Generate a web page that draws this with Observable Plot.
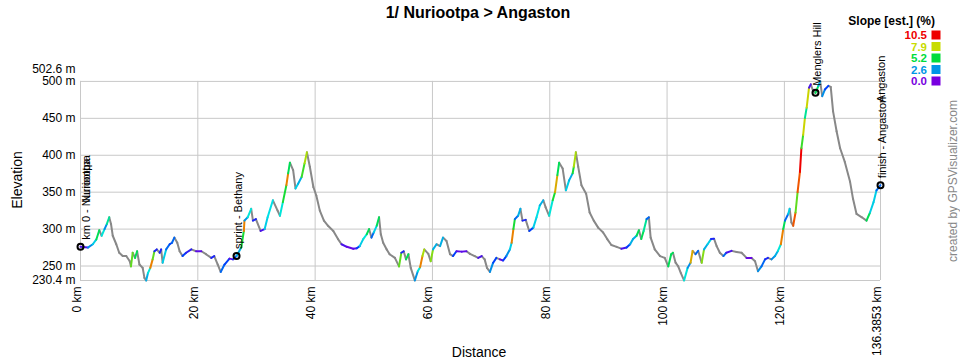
<!DOCTYPE html>
<html>
<head>
<meta charset="utf-8">
<script src="https://cdn.jsdelivr.net/npm/d3@7"></script>
<script src="https://cdn.jsdelivr.net/npm/@observablehq/plot@0.6"></script>
<style>
  body { margin: 0; background: #fff; }
  #wrap { position: relative; width: 960px; height: 360px; overflow: hidden; font-family: "Liberation Sans", Arial, sans-serif; }
  #wrap svg { position: absolute; left: 0; top: 0; }
</style>
</head>
<body>
<div id="wrap"></div>
<script>
// ---- Data read from the profile (distance in km, elevation in m, estimated slope % of the segment ending at each point; negative = descent) ----
const km = [
  0, 1.25, 2.1, 2.7, 3.2, 3.6, 4.1, 4.5, 4.9, 5.2,
  5.5, 6.1, 6.6, 7.2, 7.8, 8.4, 8.6, 8.9, 9.3, 9.65,
  10.05, 10.6, 10.9, 11.2, 11.5, 11.9, 12.3, 12.6, 13.0, 13.5,
  13.75, 14.0, 14.6, 15.2, 15.6, 16.0, 16.5, 16.9, 17.4, 18.0,
  18.9, 19.7, 20.6, 21.4, 22.3, 22.8, 23.4, 23.9, 24.55, 25.4,
  26.0, 26.6, 27.4, 27.85, 27.95, 28.5, 29.1, 29.4, 29.9, 30.7,
  31.4, 31.9, 32.8, 33.6, 34.0, 34.5, 35.1, 35.4, 35.7, 36.25,
  36.65, 37.1, 37.7, 38.2, 38.6, 39.1, 39.7, 40.2, 40.8, 41.5,
  42.2, 43.1, 43.9, 44.5, 45.4, 46.5, 47.1, 47.6, 48.2, 48.8,
  49.2, 49.6, 50.0, 50.5, 50.9, 51.2, 51.6, 52.2, 52.7, 53.6,
  54.3, 54.7, 55.1, 55.5, 55.9, 56.3, 57.0, 57.5, 57.9, 58.3,
  58.6, 59.3, 59.7, 60.1, 60.7, 61.3, 61.8, 62.4, 63.0, 63.5,
  64.1, 65.0, 65.8, 66.4, 67.2, 67.8, 68.4, 68.9, 69.3, 69.8,
  70.35, 70.9, 71.5, 72.05, 72.6, 73.2, 73.5, 73.8, 74.05, 74.6,
  75.0, 75.35, 75.9, 76.5, 77.2, 77.75, 78.3, 78.9, 79.3, 79.9,
  80.5, 80.9, 81.3, 81.6, 82.2, 82.75, 83.3, 83.9, 84.1, 84.45,
  84.85, 85.4, 86.2, 86.8, 87.5, 88.25, 89.1, 89.8, 90.5, 91.4,
  92.2, 93.1, 93.7, 94.2, 94.8, 95.2, 95.6, 96.0, 96.5, 96.9,
  97.2, 97.9, 98.8, 99.6, 100.2, 100.7, 101.0, 101.45, 101.9, 102.35,
  102.9, 103.5, 104.0, 104.35, 104.85, 105.3, 105.9, 106.3, 106.9, 107.5,
  108.0, 108.45, 109.0, 109.6, 110.1, 111.0, 111.85, 112.7, 113.55, 114.4,
  115.0, 115.5, 116.1, 116.7, 117.2, 117.8, 118.4, 118.9, 119.4, 119.8,
  120.1, 120.65, 120.9, 121.2, 121.5, 121.9, 122.25, 122.65, 122.9, 123.2,
  123.5, 123.8, 124.2, 124.5, 124.9, 125.3, 125.8, 126.1, 126.45, 126.9,
  127.5, 127.9, 128.3, 128.9, 129.5, 130.3, 131.2, 131.7, 132.3, 133.2,
  134.0, 134.6, 135.2, 135.7, 136.3853
];
const elev = [
  276, 275, 279.5, 286, 298.5, 291, 300, 307, 316, 307,
  291, 279.5, 268, 263.5, 263.5, 256.5, 249.5, 268, 261, 270,
  252, 247.5, 234, 230.4, 240.5, 247.5, 259, 270, 272.5, 268,
  272.5, 254.5, 272.5, 279.5, 281.5, 288.5, 281.5, 270, 263.5, 268,
  272.5, 270, 270, 266, 261, 263.5, 252, 242, 252, 260,
  259, 263.5, 275, 297.5, 311.5, 316, 327.5, 311.5, 313.5, 297.5,
  300, 316, 339, 325, 318, 336.5, 359.5, 375.5, 390, 380,
  355, 361.5, 370.5, 389, 404, 384.5, 357, 345.5, 325, 311.5,
  304.5, 297.5, 286.5, 279.5, 276, 273.5, 274, 277, 286.5, 293,
  300, 288.5, 295.5, 304.5, 316, 293, 281.5, 272.5, 266, 261,
  249.5, 268, 270, 259, 266, 247.5, 230.5, 243, 248.5, 263.5,
  272.5, 266.5, 256.5, 272.5, 279.5, 277, 288.5, 284, 266, 263.5,
  270, 269.5, 270, 266.5, 263.5, 261, 263.5, 259, 247.5, 242,
  254.5, 261, 259, 257.5, 263.5, 272.5, 281.5, 300, 313.5, 318,
  327.5, 311.5, 312.5, 297.5, 302, 316, 332, 339, 329.5, 318,
  339, 350, 373, 390, 382, 352.5, 366, 375.5, 384.5, 404,
  384.5, 359.5, 348, 322.5, 311.5, 302, 295.5, 286.5, 278.5, 276,
  273.5, 275, 279.5, 286.5, 291, 298.5, 286.5, 297.5, 313.5, 316,
  288.5, 272.5, 263.5, 261, 249.5, 266, 268, 254.5, 249.5, 240.5,
  230.5, 247.5, 254.5, 270.5, 266, 270.5, 254.5, 272.5, 279.5, 286.5,
  287, 277, 268, 263.5, 268, 270.5, 269, 268, 261, 261,
  256.5, 243, 249.5, 259, 261, 259, 263.5, 270.5, 279.5, 300,
  311.5, 320.5, 327.5, 309, 304.5, 322.5, 350, 377.5, 409.5, 427.5,
  450.5, 464.5, 491.5, 496, 487, 484.5, 494, 500, 480, 489,
  494, 492.5, 459.5, 432.5, 409.5, 391, 364, 341, 320.5, 316,
  311.5, 322.5, 336.5, 352.5, 359.5
];
const slope = [
  null, 0.5, 2.5, 3.5, 5, -3, 4, 2.5, 4.5, -3,
  -3, -3, -3, -2, -1, -2, -2, 6.5, -2, 5,
  -3, -2, -3, -2, 3, 4, 9, 6.5, 1, -1,
  1, -3, 3.5, 2, 1.5, 2, -2, -2, -2, 1.5,
  0.8, -1, 0.3, -1, -1, 1, -2, -2, 2, 1.5,
  0.2, 1.2, 3, 5.5, 9, 2.6, 4, -3, 1, -2,
  0.5, 3.5, 3.8, -2, -2, 4, 5.5, 9, 5, -3,
  -3, 3.5, 3, 6, 7.5, -3, -3, -3, -3, -3,
  -2, -2, -2, -2, 0.5, 0.2, 0.3, 1.5, 3.5, 4,
  5, -3, 2, 3.5, 5, -3, -3, -2, -2, -1,
  -2, 6.5, 1, -2, 5, -3, -3, 2.6, 4, 9,
  7.5, -2, -2, 7, 3, -1, 3, -2, -2, -1,
  1.5, 0.3, 0.3, -1, -1, -1, 0.5, -1, -2, -2,
  2.5, 1.5, -1, 0.2, 1.5, 2.5, 3.5, 9, 5.5, 2,
  3, -3, 1, -2, 1.5, 3.5, 3.8, 3, -2, -2,
  4, 5.5, 8.5, 5, -2, -3, 3.5, 3, 5.5, 7.5,
  -3, -3, -3, -3, -2, -2, -2, -2, -2, -1,
  -1, 0.5, 1.5, 3, 3, 5, -3, 5, 4.5, 2,
  -3, -3, -2, -1, -2, 5, 5, -3, -2, -2,
  -2, 4, 2.5, 8.5, -2, 2, -3, 7, 3, 3.5,
  1, -2, -2, -1, 2, 0.5, -0.5, -0.5, -1, 0.2,
  -1, -2, 2.5, 2, 1, -1, 2.5, 3, 4, 9,
  5, 2, 3.5, -3, -2, 9.5, 6.5, 9.5, 10.5, 6,
  8, 4.5, 8, 0.5, -2, -1, 5, 3, -3, 2.5,
  1.5, -1, -3, -3, -3, -3, -3, -3, -3, -2,
  -2, 5, 3.5, 3.5, 2
];

// Waypoints
const wpNames = ["km 0 - Nuriootpa", "sprint - Bethany", "Menglers Hill", "finish - Angaston"];
const wpKm = [0, 26.6, 125.3, 136.3853];
const wpElev = [276, 263.5, 484.5, 359.5];
const startAlias = ["Nuriootpa"];
const finishAlias = ["Angaston"];

// Axis ticks
const xTicks = [0, 20, 40, 60, 80, 100, 120, 136.3853];
const yTicks = [230.4, 250, 300, 350, 400, 450, 500];
const yMin = 230.4, yMax = 502.6;

// Slope colour legend
const legendTitle = "Slope [est.] (%)";
const legendValues = [10.5, 7.9, 5.2, 2.6, 0.0];
const slopeStops = [-100, -0.01, 0, 1.3, 2.6, 3.9, 5.2, 7.9, 9.2, 10.5];
const slopeColors = ["#888888", "#888888", "#7800e0", "#0030ff", "#0096e6", "#00e6e6", "#00dc3c", "#c8dc00", "#f07000", "#ee0000"];

// ---- build ----
const segs = d3.range(1, km.length).map(i => ({x1: km[i-1], y1: elev[i-1], x2: km[i], y2: elev[i], slope: slope[i]}));
segs.sort((a, b) => (a.slope < 0 ? 0 : 1) - (b.slope < 0 ? 0 : 1));
const wps = wpNames.map((n, i) => ({name: n, km: wpKm[i], elev: wpElev[i]}));
const startLabel = wps.slice(0, 1);
const otherLabels = wps.slice(1);
const startAliasData = startAlias.map(n => ({name: n, km: wpKm[0], elev: wpElev[0]}));
const finishAliasData = finishAlias.map(n => ({name: n, km: wpKm[3], elev: wpElev[3]}));

const font = "'Liberation Sans', Arial, sans-serif";

const chart = Plot.plot({
  width: 960,
  height: 360,
  marginLeft: 80,
  marginRight: 80,
  marginTop: 79,
  marginBottom: 80,
  style: {fontFamily: font, fontSize: "12px", color: "#000", background: "transparent", overflow: "visible"},
  x: {domain: [0, 136.3853], axis: null},
  y: {domain: [yMin, yMax], axis: null},
  color: {type: "linear", domain: slopeStops, range: slopeColors, clamp: true},
  marks: [
    Plot.ruleY(yTicks, {stroke: "#c8c8c8", strokeWidth: 1}),
    Plot.ruleX(xTicks, {y1: yMin, y2: 500, stroke: "#c8c8c8", strokeWidth: 1}),
    Plot.link(segs, {x1: "x1", y1: "y1", x2: "x2", y2: "y2", stroke: "slope", strokeWidth: 2, strokeLinecap: "round"}),
    Plot.dot(wps, {x: "km", y: "elev", r: 3, stroke: "#000", strokeWidth: 2, fill: "none"}),
    Plot.text(startLabel, {x: "km", y: "elev", text: "name", rotate: -90, textAnchor: "start", dx: 6, dy: -7, fontSize: 11, fill: "#000"}),
    Plot.text(otherLabels, {x: "km", y: "elev", text: "name", rotate: -90, textAnchor: "start", dx: 2, dy: -7, fontSize: 11, fill: "#000"}),
    Plot.text(startAliasData, {x: "km", y: "elev", text: "name", rotate: -90, textAnchor: "start", dx: 6, dy: -44, fontSize: 11, fill: "#000"}),
    Plot.text(finishAliasData, {x: "km", y: "elev", text: "name", rotate: -90, textAnchor: "start", dx: 1, dy: -83, fontSize: 11, fill: "#000"}),
    // y tick labels
    Plot.text(yTicks, {y: d => d, frameAnchor: "left", textAnchor: "end", dx: -5, text: d => d + " m", fontSize: 12, fill: "#000"}),
    Plot.text([yMax], {y: d => d, frameAnchor: "left", textAnchor: "end", dx: -5, dy: -10, text: d => d + " m", fontSize: 12, fill: "#000"}),
    // x tick labels
    Plot.text(xTicks, {x: d => d, frameAnchor: "bottom", rotate: -90, textAnchor: "end", dy: 6, text: d => d + " km", fontSize: 12, fill: "#000"})
  ]
});
document.getElementById("wrap").appendChild(chart);

// colour function from the plot's colour scale
let colorOf;
try {
  const sc = chart.scale("color");
  colorOf = v => sc.apply(v);
} catch (e) {
  const f = d3.scaleLinear().domain(slopeStops).range(slopeColors).clamp(true);
  colorOf = v => f(v);
}

// ---- overlay: title, axis titles, legend, credit ----
const ov = d3.select("#wrap").append("svg")
  .attr("width", 960).attr("height", 360)
  .style("font-family", font);

ov.append("text").attr("x", 478).attr("y", 12).attr("text-anchor", "middle").attr("dominant-baseline", "central")
  .style("font-weight", "bold").style("font-size", "16px").text("1/ Nuriootpa > Angaston");

ov.append("text").attr("transform", "translate(17,180) rotate(-90)").attr("text-anchor", "middle").attr("dominant-baseline", "central")
  .style("font-size", "14px").text("Elevation");

ov.append("text").attr("x", 479).attr("y", 352).attr("text-anchor", "middle").attr("dominant-baseline", "central")
  .style("font-size", "14px").text("Distance");

ov.append("text").attr("transform", "translate(953,181) rotate(-90)").attr("text-anchor", "middle").attr("dominant-baseline", "central")
  .style("font-size", "12px").style("fill", "#888").text("created by GPSVisualizer.com");

ov.append("text").attr("x", 935).attr("y", 21).attr("text-anchor", "end").attr("dominant-baseline", "central")
  .style("font-weight", "bold").style("font-size", "12px").text(legendTitle);

legendValues.forEach((v, i) => {
  const y = 35 + i * 11.5;
  const c = colorOf(v);
  ov.append("text").attr("x", 927).attr("y", y).attr("text-anchor", "end").attr("dominant-baseline", "central")
    .style("font-weight", "bold").style("font-size", "11.5px").style("fill", c).text(v.toFixed(1));
  ov.append("rect").attr("x", 931.5).attr("y", y - 4.5).attr("width", 9).attr("height", 9).attr("fill", c);
});
</script>
</body>
</html>
